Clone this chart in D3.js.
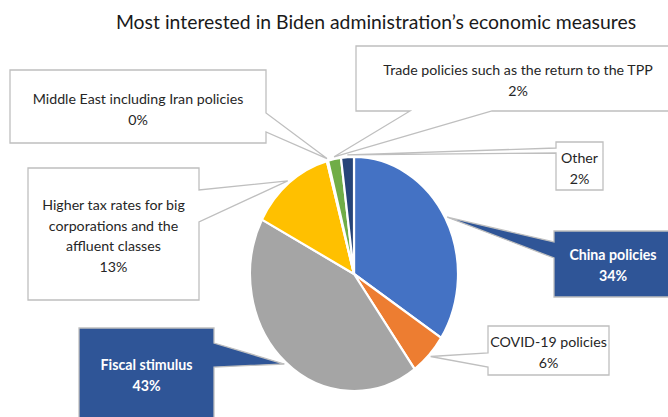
<!DOCTYPE html>
<html>
<head>
<meta charset="utf-8">
<script src="https://cdn.jsdelivr.net/npm/d3@7"></script>
<style>
  body { margin: 0; background: #fff; }
  svg { display: block; font-family: Lato, "Noto Sans", sans-serif; }
</style>
</head>
<body>
<svg id="chart"></svg>
<script>
const title = "Most interested in Biden administration\u2019s economic measures";
const categories = ["China policies", "COVID-19 policies", "Fiscal stimulus",
  "Higher tax rates for big corporations and the affluent classes",
  "Middle East including Iran policies", "Trade policies such as the return to the TPP", "Other"];
const values = [34.2, 5.9, 42.6, 13.1, 0.2, 2.0, 2.0];
const colors = ["#4472C4", "#ED7D31", "#A5A5A5", "#FFC000", "#5B9BD5", "#70AD47", "#264478"];
const labelLines = [
  ["China policies"], ["COVID-19 policies"], ["Fiscal stimulus"],
  ["Higher tax rates for big", "corporations and the", "affluent classes"],
  ["Middle East including Iran policies"], ["Trade policies such as the return to the TPP"], ["Other"]
];

// callout boxes: x0, y0, x1, y1, side of the pointer, two base points on that side
const callouts = [
  { box: [554, 231, 672, 297], side: "left", base: [242, 258], dark: true, first: 260 },
  { box: [488, 326, 609, 375], side: "left", base: [353, 367], first: 347 },
  { box: [79, 328, 214, 440], side: "right", base: [343, 367], dark: true, first: 370 },
  { box: [28, 168, 199, 300], side: "right", base: [190, 222], first: 210 },
  { box: [10, 70, 266, 143], side: "right", base: [113, 132], first: 104 },
  { box: [356, 46, 680, 111], side: "bottom", base: [410, 492], first: 75 },
  { box: [556, 142, 603, 190], side: "left", base: [148, 153], first: 163 }
];

const W = 668, H = 417;
const cx = 354, cy = 274, rx = 104, ry = 117;

const svg = d3.select("#chart").attr("width", W).attr("height", H);

const pie = d3.pie().sort(null).value(d => d)(values);
const arc = d3.arc().innerRadius(0).outerRadius(1);

// pie drawn on a unit circle then stretched to an ellipse
svg.append("g")
    .attr("transform", "translate(" + cx + "," + cy + ") scale(" + rx + "," + ry + ")")
  .selectAll("path")
  .data(pie)
  .join("path")
    .attr("d", arc)
    .attr("fill", (d, i) => colors[i])
    .attr("stroke", "#fff")
    .attr("stroke-width", 2.2)
    .attr("vector-effect", "non-scaling-stroke");

function tipOf(d) {
  const a = (d.startAngle + d.endAngle) / 2, k = 1.02;
  return [cx + rx * k * Math.sin(a), cy - ry * k * Math.cos(a)];
}

function calloutPath(c, tip) {
  const [x0, y0, x1, y1] = c.box;
  const [b1, b2] = c.base;
  let p = [[x0, y0], [x1, y0]];
  if (c.side === "right") p.push([x1, b1], tip, [x1, b2]);
  p.push([x1, y1]);
  if (c.side === "bottom") p.push([b2, y1], tip, [b1, y1]);
  p.push([x0, y1]);
  if (c.side === "left") p.push([x0, b2], tip, [x0, b1]);
  return "M" + p.map(q => q.join(",")).join("L") + "Z";
}

const lineH = 20.5;
const labels = svg.append("g");
pie.forEach((d, i) => {
  const c = callouts[i];
  const g = labels.append("g");
  g.append("path")
      .attr("d", calloutPath(c, tipOf(d)))
      .attr("fill", c.dark ? "#2F5597" : "#fff")
      .attr("stroke", "#BFBFBF")
      .attr("stroke-width", 1.3);
  const midX = (c.box[0] + c.box[2]) / 2;
  const lines = labelLines[i].concat([Math.round(values[i]) + "%"]);
  lines.forEach((t, j) => {
    g.append("text")
        .attr("x", midX)
        .attr("y", c.first + j * lineH)
        .attr("text-anchor", "middle")
        .attr("font-size", 14.2)
        .attr("font-weight", c.dark ? "bold" : "normal")
        .attr("fill", c.dark ? "#fff" : "#262626")
        .text(t);
  });
});

svg.append("text")
    .attr("x", 376)
    .attr("y", 29)
    .attr("text-anchor", "middle")
    .attr("font-size", 19.4)
    .attr("fill", "#1a1a1a")
    .text(title);
</script>
</body>
</html>
